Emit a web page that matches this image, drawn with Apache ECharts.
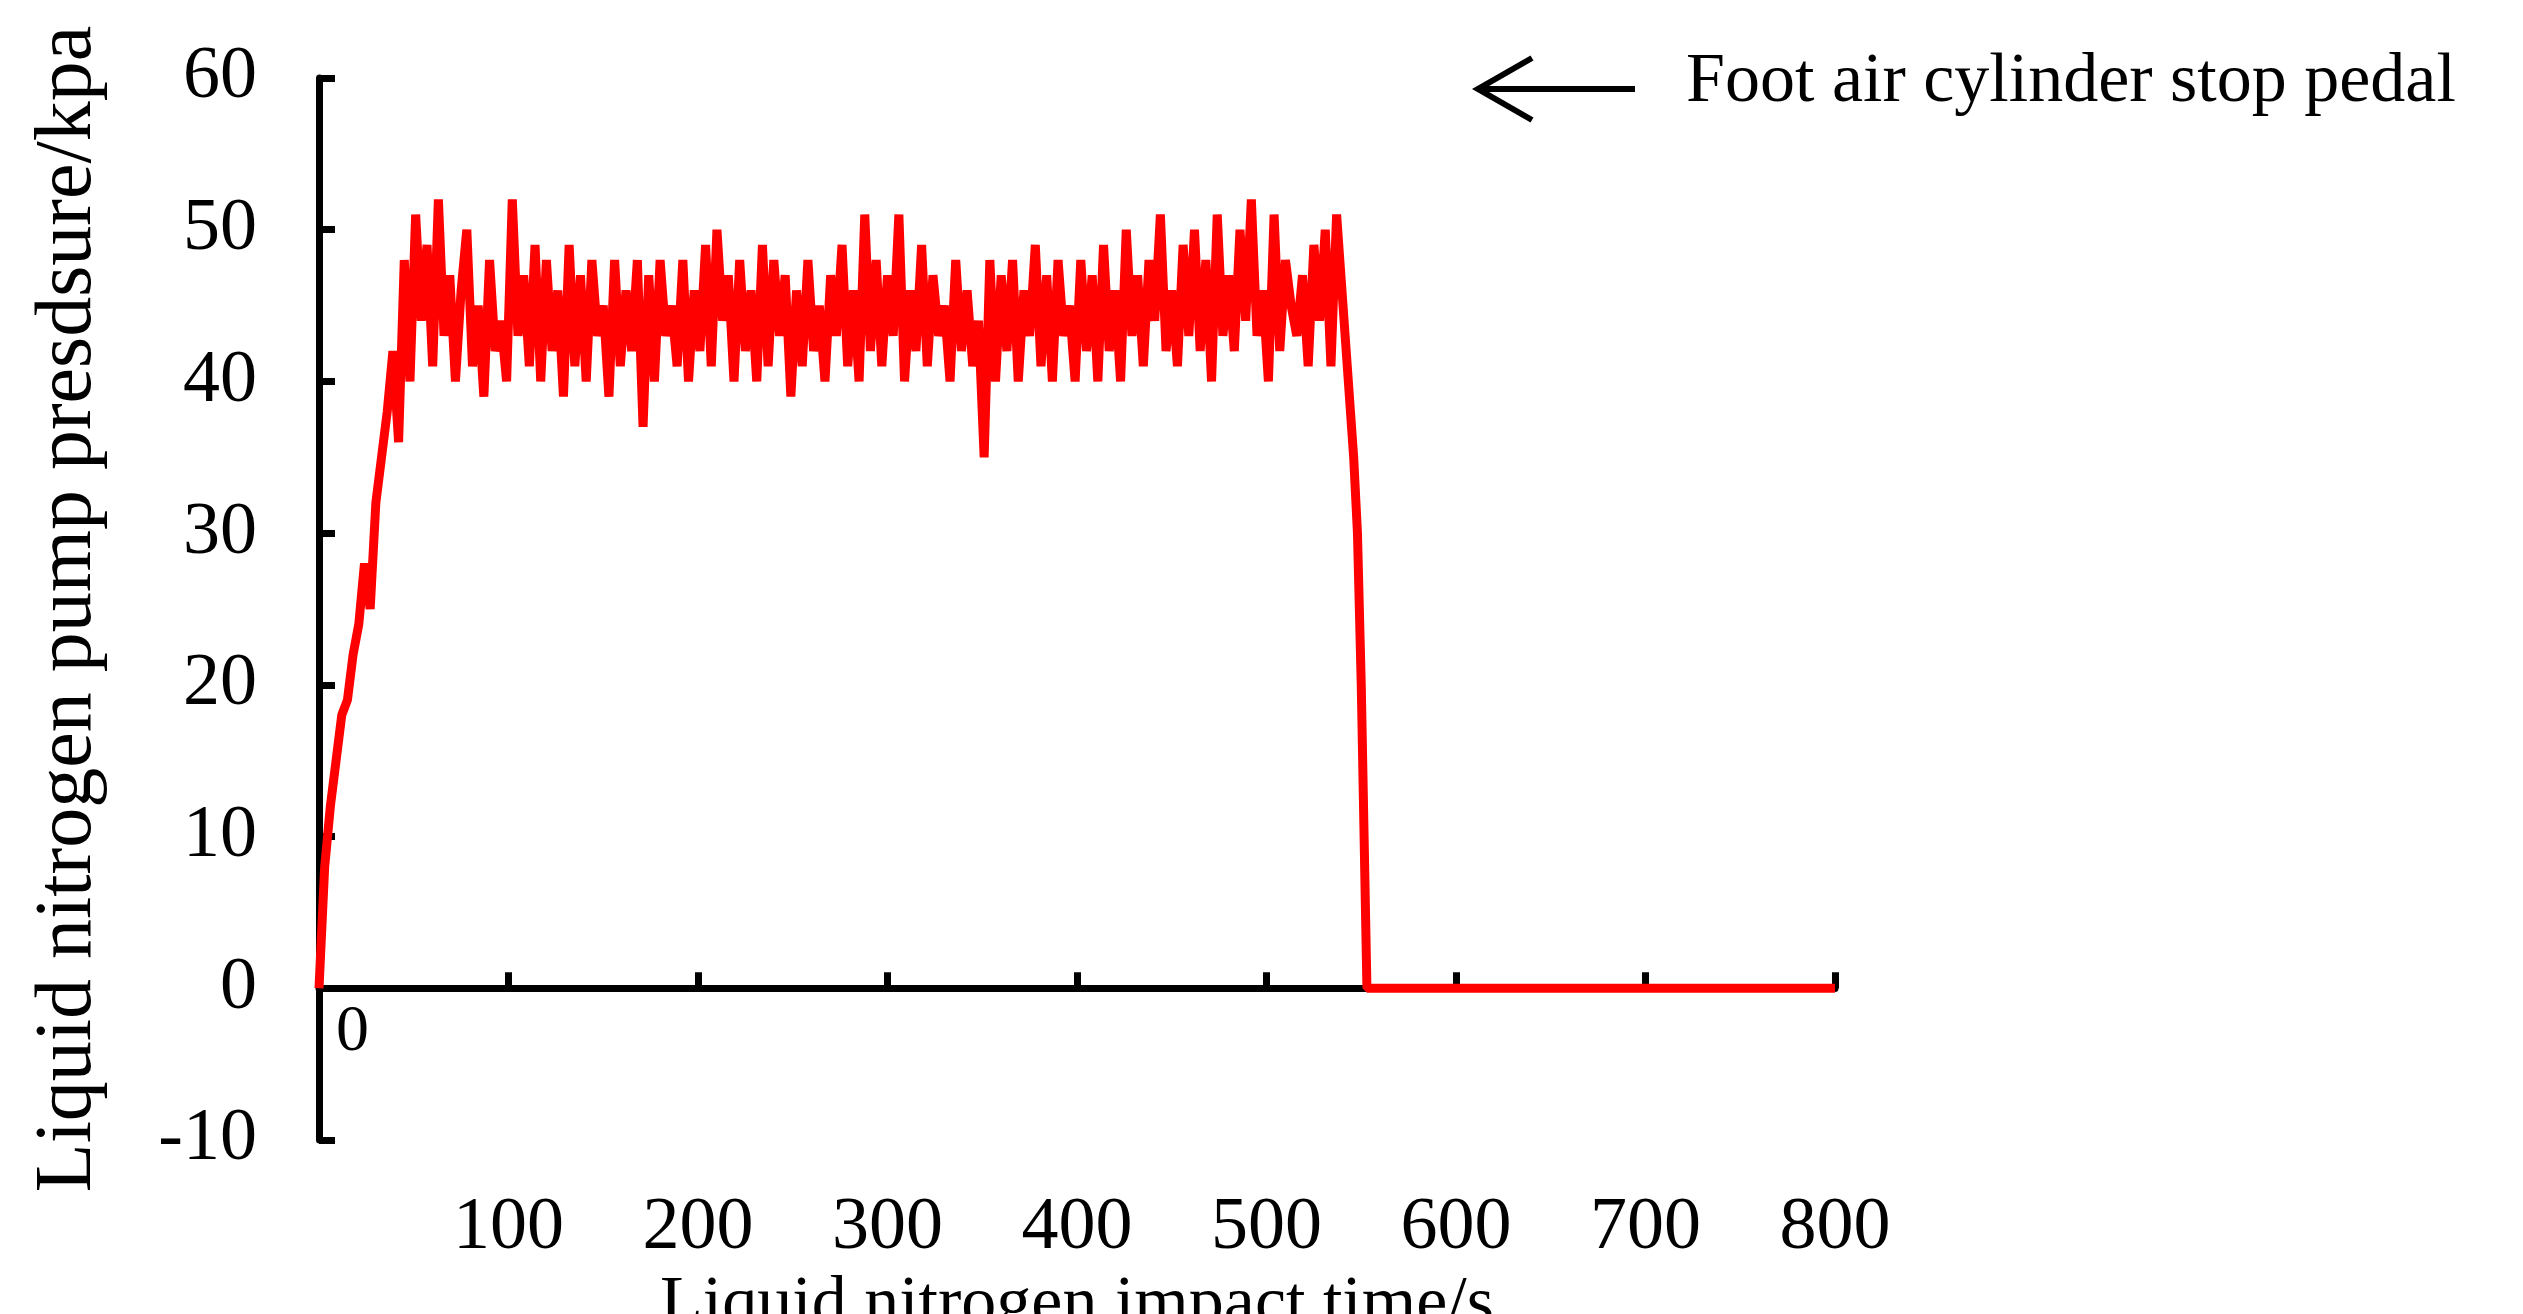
<!DOCTYPE html>
<html>
<head>
<meta charset="utf-8">
<script src="https://cdn.jsdelivr.net/npm/echarts@6/dist/echarts.min.js"></script>
<style>html,body{margin:0;background:#fff}#main{width:2523px;height:1314px}</style>
</head>
<body>
<div id="main"></div>
<script>
// sample spacing (s) of the recorded pressure
var step = 3;
var pressure = [
  0, 8, 12, 15, 18, 19, 22, 24, 28, 25, 32, 35, 38, 42, 36, 48, 40, 51, 44, 49,
  41, 52, 43, 47, 40, 46, 50, 41, 45, 39, 48, 42, 44, 40, 52, 43, 47, 41, 49, 40,
  48, 42, 46, 39, 49, 41, 47, 40, 48, 43, 45, 39, 48, 41, 46, 42, 48, 37, 47, 40,
  48, 43, 45, 41, 48, 40, 46, 42, 49, 41, 50, 44, 47, 40, 48, 42, 46, 40, 49, 41,
  48, 43, 47, 39, 46, 41, 48, 42, 45, 40, 47, 43, 49, 41, 46, 40, 51, 42, 48, 41,
  47, 43, 51, 40, 46, 42, 49, 41, 47, 43, 45, 40, 48, 42, 46, 41, 44, 35, 48, 40,
  47, 42, 48, 40, 46, 43, 49, 41, 47, 40, 48, 43, 45, 40, 48, 42, 47, 40, 49, 42,
  46, 40, 50, 43, 47, 41, 48, 44, 51, 42, 46, 41, 49, 43, 50, 42, 48, 40, 51, 43,
  47, 42, 50, 44, 52, 43, 46, 40, 51, 42, 48, 45, 43, 47, 41, 49, 44, 50, 41, 51
];
var dropTimes = [546, 548, 550, 553, 800];
var dropValues = [35, 30, 20, 0, 0];
var xTicks = [0, 100, 200, 300, 400, 500, 600, 700, 800];
var yTicks = [-10, 0, 10, 20, 30, 40, 50, 60];

var points = pressure.map(function (v, i) { return [i * step, v]; });
dropTimes.forEach(function (t, i) { points.push([t, dropValues[i]]); });

var font = 'Liberation Serif';
var chart = echarts.init(document.getElementById('main'));
chart.setOption({
  animation: false,
  grid: { left: 319, right: 688, top: 78, bottom: 174, outerBoundsMode: 'none', containLabel: false },
  xAxis: {
    type: 'value', min: xTicks[0], max: xTicks[xTicks.length - 1], interval: 100,
    axisLine: { onZero: true, lineStyle: { color: '#000', width: 7 } },
    axisTick: { inside: true, length: 16, lineStyle: { color: '#000', width: 7 } },
    axisLabel: {
      color: '#000', fontFamily: font, fontSize: 74, margin: 52,
      formatter: function (v) { return v === 0 ? '' : String(v); }
    },
    splitLine: { show: false },
    name: 'Liquid nitrogen impact time/s', nameLocation: 'middle', nameGap: 30,
    nameTextStyle: { color: '#000', fontFamily: font, fontSize: 70 }
  },
  yAxis: {
    type: 'value', min: yTicks[0], max: yTicks[yTicks.length - 1], interval: 10,
    axisLine: { lineStyle: { color: '#000', width: 7 } },
    axisTick: { inside: true, length: 16, lineStyle: { color: '#000', width: 7 } },
    axisLabel: { color: '#000', fontFamily: font, fontSize: 74, margin: 62 },
    splitLine: { show: false },
    name: 'Liquid nitrogen pump presdsure/kpa', nameLocation: 'middle', nameGap: 210,
    nameTextStyle: { color: '#000', fontFamily: font, fontSize: 80 }
  },
  series: [{
    type: 'line', data: points, showSymbol: false,
    lineStyle: { color: '#ff0000', width: 9 }
  }],
  graphic: [
    { type: 'text', left: 336, top: 1000, style: { text: '0', font: '66px "Liberation Serif"', fill: '#000' } },
    { type: 'line', shape: { x1: 1635, y1: 89, x2: 1478, y2: 89 }, style: { stroke: '#000', lineWidth: 6 } },
    { type: 'polyline', shape: { points: [[1532, 58], [1478, 89], [1532, 120]] }, style: { stroke: '#000', lineWidth: 6, fill: null } },
    { type: 'text', left: 1686, top: 48, style: { text: 'Foot air cylinder stop pedal', font: '70px "Liberation Serif"', fill: '#000' } }
  ]
});
</script>
</body>
</html>
